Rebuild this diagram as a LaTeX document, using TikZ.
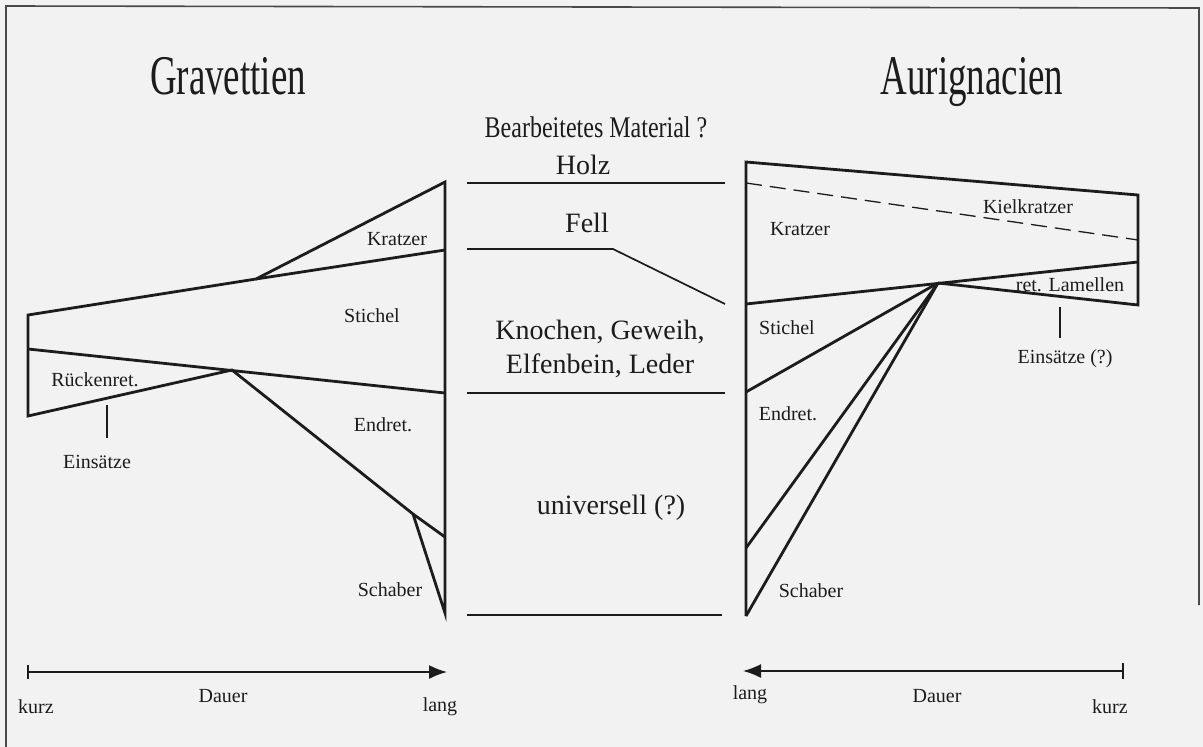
\documentclass[tikz,border=0pt]{standalone}
\usepackage{fontspec}
\setmainfont{Liberation Serif}
\usetikzlibrary{arrows.meta}
\definecolor{ink}{RGB}{28,28,28}
\definecolor{paper}{RGB}{242,242,242}
\begin{document}
\begin{tikzpicture}[x=1pt,y=-1pt,
  every node/.style={inner sep=0pt,text=ink},
  title/.style={font=\fontsize{56}{60}\selectfont,xscale=0.66,anchor=base},
  head/.style={font=\fontsize{30}{34}\selectfont,xscale=0.8},
  material/.style={font=\fontsize{28}{32}\selectfont},
  lbl/.style={font=\fontsize{20}{24}\selectfont},
  shape line/.style={draw=ink,line width=2.8pt,line join=miter},
  guide/.style={draw=ink,line width=1.7pt},
  tick/.style={draw=ink,line width=1.4pt},
  axis/.style={draw=ink,line width=1.7pt,-{Latex[length=18pt,width=14pt]}},
  frame/.style={draw=ink!80,line width=1.6pt}]
% paper
\fill[paper] (0,0) rectangle (1203,747);
\useasboundingbox (0,0) rectangle (1203,747);
\draw[frame] (6,747) -- (6,6) -- (1199,8) -- (1199,605);

% headings
\node[title] (grav) at (228,94) {Gravettien};
\node[title] (auri) at (972,94) {Aurignacien};
\node[head] (mat) at (596,127) {Bearbeitetes Material ?};

% ---------- Gravettien ----------
\coordinate (gTop) at (445,182);
\coordinate (gKr)  at (256,279);
\coordinate (gKrR) at (445,250);
\coordinate (gL1)  at (28,315);
\coordinate (gL2)  at (28,349);
\coordinate (gL3)  at (28,416);
\coordinate (gStR) at (445,393);
\coordinate (gX)   at (232,370);
\coordinate (gSb)  at (413,514);
\coordinate (gEnR) at (445,537);
\coordinate (gBot) at (445,613);
\draw[shape line] (gTop) -- (gKr) -- (gL1) -- (gL3) -- (gX) -- (gSb) -- (gBot) -- cycle;
\draw[shape line] (gKr) -- (gKrR);
\draw[shape line] (gL2) -- (gStR);
\draw[shape line] (gSb) -- (gEnR);
\coordinate (gTickA) at (107,405);
\coordinate (gTickB) at (107,438);
\draw[tick] (gTickA) -- (gTickB);

\node[lbl] (gKrL) at (397,239) {Kratzer};
\node[lbl] (gStL) at (372,316) {Stichel};
\node[lbl] (gRuL) at (95,380) {Rückenret.};
\node[lbl] (gEnL) at (383,425) {Endret.};
\node[lbl] (gEiL) at (97,462) {Einsätze};
\node[lbl] (gScL) at (390,590) {Schaber};

% ---------- Aurignacien ----------
\coordinate (aTL)  at (746,162);
\coordinate (aTR)  at (1138,195);
\coordinate (aBR)  at (1138,305);
\coordinate (aD1)  at (746,183);
\coordinate (aD2)  at (1138,240);
\coordinate (aL4)  at (746,304);
\coordinate (aX)   at (938,283);
\coordinate (aR5)  at (1138,262);
\coordinate (aL6)  at (746,392);
\coordinate (aL7)  at (746,548);
\coordinate (aBot) at (746,616);
\draw[shape line] (aBot) -- (aTL) -- (aTR) -- (aBR) -- (aX);
\draw[shape line] (aL4) -- (aR5);
\draw[shape line] (aX) -- (aL6);
\draw[shape line] (aX) -- (aL7);
\draw[shape line] (aX) -- (aBot);
\draw[draw=ink,line width=1.3pt,dash pattern=on 16pt off 8pt] (aD1) -- (aD2);
\coordinate (aTickA) at (1060,307);
\coordinate (aTickB) at (1060,338);
\draw[tick] (aTickA) -- (aTickB);

\node[lbl] (aKiL) at (1028,207) {Kielkratzer};
\node[lbl] (aKrL) at (800,229) {Kratzer};
\node[lbl] (aLaL) at (1070,285) {ret. Lamellen};
\node[lbl] (aEiL) at (1065,359) {Einsätze (?)};
\node[lbl] (aStL) at (787,328) {Stichel};
\node[lbl] (aEnL) at (788,414) {Endret.};
\node[lbl] (aScL) at (811,591) {Schaber};

% ---------- material bands ----------
\node[material] (holz) at (583,165) {Holz};
\node[material] (fell) at (587,223) {Fell};
\node[material] (kno1) at (600,332) {Knochen, Geweih,};
\node[material] (kno2) at (600,366) {Elfenbein, Leder};
\node[material] (univ) at (611,508) {universell (?)};
\coordinate (m1a) at (467,183);
\coordinate (m1b) at (725,183);
\coordinate (m2a) at (467,249);
\coordinate (m2k) at (613,249);
\coordinate (m2b) at (725,304);
\coordinate (m3a) at (467,393);
\coordinate (m3b) at (725,393);
\coordinate (m4a) at (467,615);
\coordinate (m4b) at (722,615);
\draw[guide] (m1a) -- (m1b);
\draw[guide] (m2a) -- (m2k) -- (m2b);
\draw[guide] (m3a) -- (m3b);
\draw[guide] (m4a) -- (m4b);

% ---------- duration axes ----------
\coordinate (axLs) at (28,672);
\coordinate (axLe) at (447,672);
\draw[tick] (28,665) -- (28,679);
\draw[axis] (axLs) -- (axLe);
\node[lbl] (kurzL) at (36,707) {kurz};
\node[lbl] (dauL)  at (223,696) {Dauer};
\node[lbl] (langL) at (440,707) {lang};

\coordinate (axRs) at (1123,671);
\coordinate (axRe) at (743,671);
\draw[tick] (1123,663) -- (1123,679);
\draw[axis] (axRs) -- (axRe);
\node[lbl] (langR) at (750,695) {lang};
\node[lbl] (dauR)  at (937,696) {Dauer};
\node[lbl] (kurzR) at (1110,707) {kurz};
\end{tikzpicture}
\end{document}
